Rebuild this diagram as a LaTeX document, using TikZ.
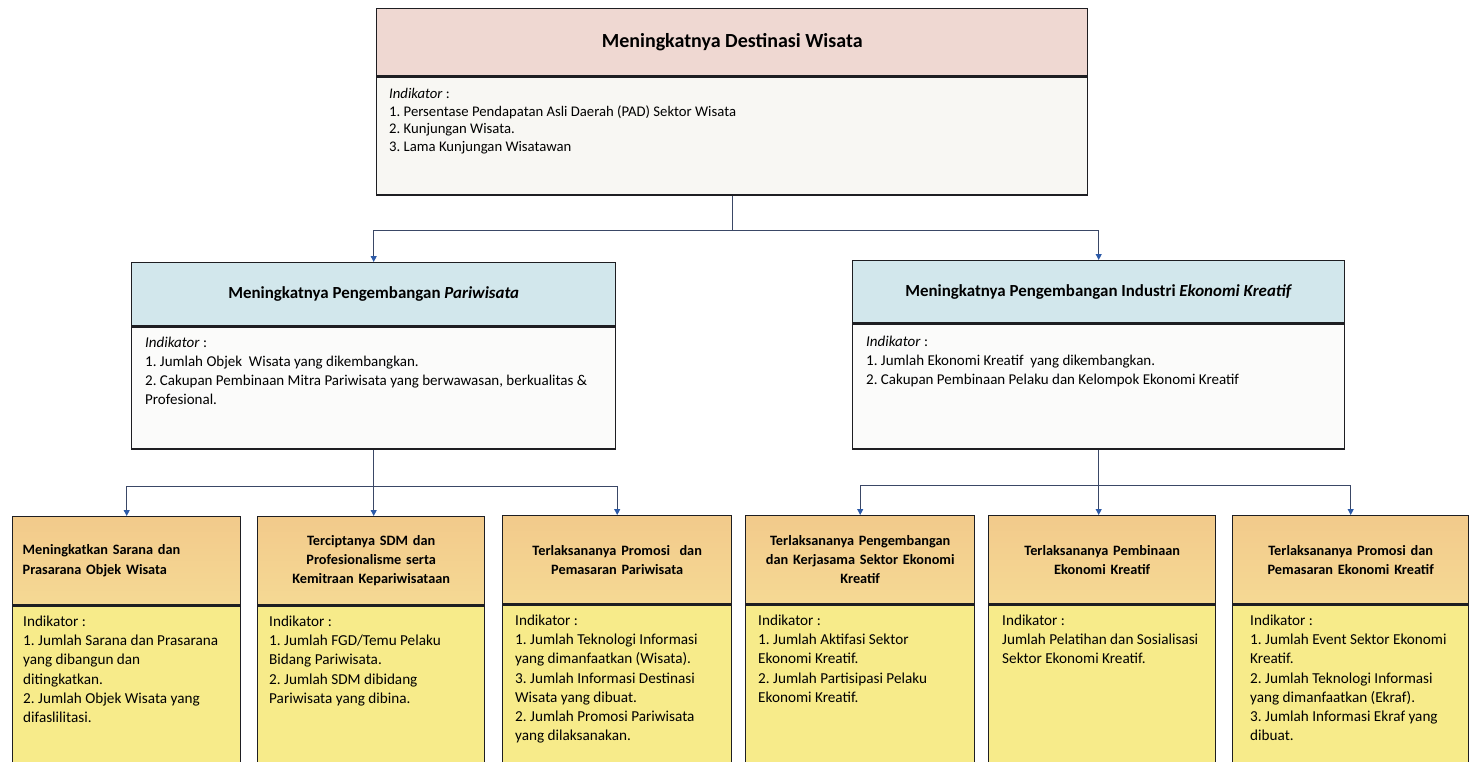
\documentclass[tikz,border=0pt]{standalone}
\usepackage{fontspec}
\setmainfont{Carlito}
\frenchspacing
\usetikzlibrary{arrows.meta,calc}
\definecolor{boxline}{HTML}{1E1E22}
\definecolor{connline}{HTML}{3A4766}
\definecolor{arrowblue}{HTML}{2C5AA8}
\definecolor{tophead}{HTML}{EFD8D2}
\definecolor{topbody}{HTML}{F8F7F3}
\definecolor{midhead}{HTML}{D2E7EC}
\definecolor{midbody}{HTML}{FBFBFA}
\definecolor{bothead}{HTML}{F2CA8B}
\definecolor{bothead2}{HTML}{F5D994}
\definecolor{botbody}{HTML}{F7EB8A}
\begin{document}
\frenchspacing
\begin{tikzpicture}[x=1pt,y=-1pt,
  boxbase/.style={draw=boxline, line width=1.4pt, rectangle, inner sep=0pt, anchor=north west},
  tophd/.style={boxbase, fill=tophead, font=\fontsize{20}{24}\selectfont\bfseries},
  topbd/.style={boxbase, fill=topbody},
  midhd/.style={boxbase, fill=midhead, font=\fontsize{16.9}{20}\selectfont\bfseries},
  midbd/.style={boxbase, fill=midbody},
  bothd/.style={boxbase, top color=bothead, bottom color=bothead2, minimum height=88pt, inner xsep=10pt, align=center, font=\fontsize{14.3}{19}\selectfont\bfseries},
  botbd/.style={boxbase, fill=botbody, minimum height=175pt},
  bodytxt/.style={anchor=north west, inner sep=0pt, align=left},
  toptxt/.style={bodytxt, font=\fontsize{14.7}{17.4}\selectfont},
  midtxt/.style={bodytxt, font=\fontsize{15}{19}\selectfont},
  bottxt/.style={bodytxt, font=\fontsize{15.2}{19.3}\selectfont},
  conn/.style={draw=connline, line width=0.9pt},
  arr/.style={conn, -{Triangle[width=6pt,length=6pt,fill=arrowblue,color=arrowblue]}}
]
\useasboundingbox (0,0) rectangle (1479,762);
\clip (0,0) rectangle (1479,762);
\fill[white] (0,0) rectangle (1479,762);

% top box
\node[tophd, minimum width=711pt, minimum height=67pt] (th) at (376,8) {Meningkatnya Destinasi Wisata};
\node[topbd, minimum width=711pt, minimum height=118pt] (tb) at (th.south west) {};
\node[toptxt] (tt) at ($(tb.north west)+(13,12)$) {\textit{Indikator} :\\1. Persentase Pendapatan Asli Daerah (PAD) Sektor Wisata\\2. Kunjungan Wisata.\\3. Lama Kunjungan Wisatawan};

% middle left
\node[midhd, minimum width=484pt, minimum height=63pt] (lh) at (131,262) {Meningkatnya Pengembangan \textit{Pariwisata}};
\node[midbd, minimum width=484pt, minimum height=122pt] (lb) at (lh.south west) {};
\node[midtxt] (lt) at ($(lb.north west)+(14,10)$) {\textit{Indikator} :\\1. Jumlah Objek\ \ Wisata yang dikembangkan.\\2. Cakupan Pembinaan Mitra Pariwisata yang berwawasan, berkualitas \&\\Profesional.};

% middle right
\node[midhd, minimum width=492pt, minimum height=62pt] (rh) at (852,260) {Meningkatnya Pengembangan Industri \textit{Ekonomi Kreatif}};
\node[midbd, minimum width=492pt, minimum height=125pt] (rb) at (rh.south west) {};
\node[midtxt] (rt) at ($(rb.north west)+(14,12)$) {\textit{Indikator} :\\1. Jumlah Ekonomi Kreatif\ \ yang dikembangkan.\\2. Cakupan Pembinaan Pelaku dan Kelompok Ekonomi Kreatif};

% bottom boxes
\node[bothd, minimum width=228pt, text width=208pt, align=left, font=\fontsize{14.3}{20}\selectfont\bfseries] (h1) at (12,516) {Meningkatkan Sarana dan\\Prasarana Objek Wisata};
\node[botbd, minimum width=228pt] (b1) at (h1.south west) {};
\node[bottxt] (t1) at ($(b1.north west)+(11,10)$) {Indikator :\\1. Jumlah Sarana dan Prasarana\\yang dibangun dan\\ditingkatkan.\\2. Jumlah Objek Wisata yang\\difaslilitasi.};

\node[bothd, minimum width=227pt, text width=207pt] (h2) at (257,516) {Terciptanya SDM dan\\Profesionalisme serta\\Kemitraan Kepariwisataan};
\node[botbd, minimum width=227pt] (b2) at (h2.south west) {};
\node[bottxt] (t2) at ($(b2.north west)+(12,10)$) {Indikator :\\1. Jumlah FGD/Temu Pelaku\\Bidang Pariwisata.\\2. Jumlah SDM dibidang\\Pariwisata yang dibina.};

\node[bothd, minimum width=229pt, text width=209pt] (h3) at (502,515) {Terlaksananya Promosi\ \ dan\\Pemasaran Pariwisata};
\node[botbd, minimum width=229pt] (b3) at (h3.south west) {};
\node[bottxt] (t3) at ($(b3.north west)+(13,10)$) {Indikator :\\1. Jumlah Teknologi Informasi\\yang dimanfaatkan (Wisata).\\3. Jumlah Informasi Destinasi\\Wisata yang dibuat.\\2. Jumlah Promosi Pariwisata\\yang dilaksanakan.};

\node[bothd, minimum width=229pt, text width=209pt] (h4) at (745,515) {Terlaksananya Pengembangan\\dan Kerjasama Sektor Ekonomi\\Kreatif};
\node[botbd, minimum width=229pt] (b4) at (h4.south west) {};
\node[bottxt] (t4) at ($(b4.north west)+(13,10)$) {Indikator :\\1. Jumlah Aktifasi Sektor\\Ekonomi Kreatif.\\2. Jumlah Partisipasi Pelaku\\Ekonomi Kreatif.};

\node[bothd, minimum width=227pt, text width=207pt] (h5) at (988,515) {Terlaksananya Pembinaan\\Ekonomi Kreatif};
\node[botbd, minimum width=227pt] (b5) at (h5.south west) {};
\node[bottxt] (t5) at ($(b5.north west)+(14,10)$) {Indikator :\\Jumlah Pelatihan dan Sosialisasi\\Sektor Ekonomi Kreatif.};

\node[bothd, minimum width=236pt, text width=216pt] (h6) at (1232,515) {Terlaksananya Promosi dan\\Pemasaran Ekonomi Kreatif};
\node[botbd, minimum width=236pt] (b6) at (h6.south west) {};
\node[bottxt] (t6) at ($(b6.north west)+(18,10)$) {Indikator :\\1. Jumlah Event Sektor Ekonomi\\Kreatif.\\2. Jumlah Teknologi Informasi\\yang dimanfaatkan (Ekraf).\\3. Jumlah Informasi Ekraf yang\\dibuat.};

% connectors
\coordinate (j0) at ($(tb.south)+(0,35)$);
\draw[conn] (tb.south) -- (j0);
\draw[arr] (j0) -| (lh.north);
\draw[arr] (j0) -| (rh.north);

\coordinate (j1) at ($(lb.south)+(0,37)$);
\draw[conn] (lb.south) -- (j1);
\draw[arr] (j1) -| (h1.north);
\draw[arr] (lb.south) -- (lb.south |- h2.north);
\draw[arr] (j1) -| (h3.north);

\coordinate (j2) at ($(rb.south)+(0,36)$);
\draw[conn] (rb.south) -- (j2);
\draw[arr] (j2) -| (h4.north);
\draw[arr] (rb.south) -- (rb.south |- h5.north);
\draw[arr] (j2) -| (h6.north);
\end{tikzpicture}
\end{document}
